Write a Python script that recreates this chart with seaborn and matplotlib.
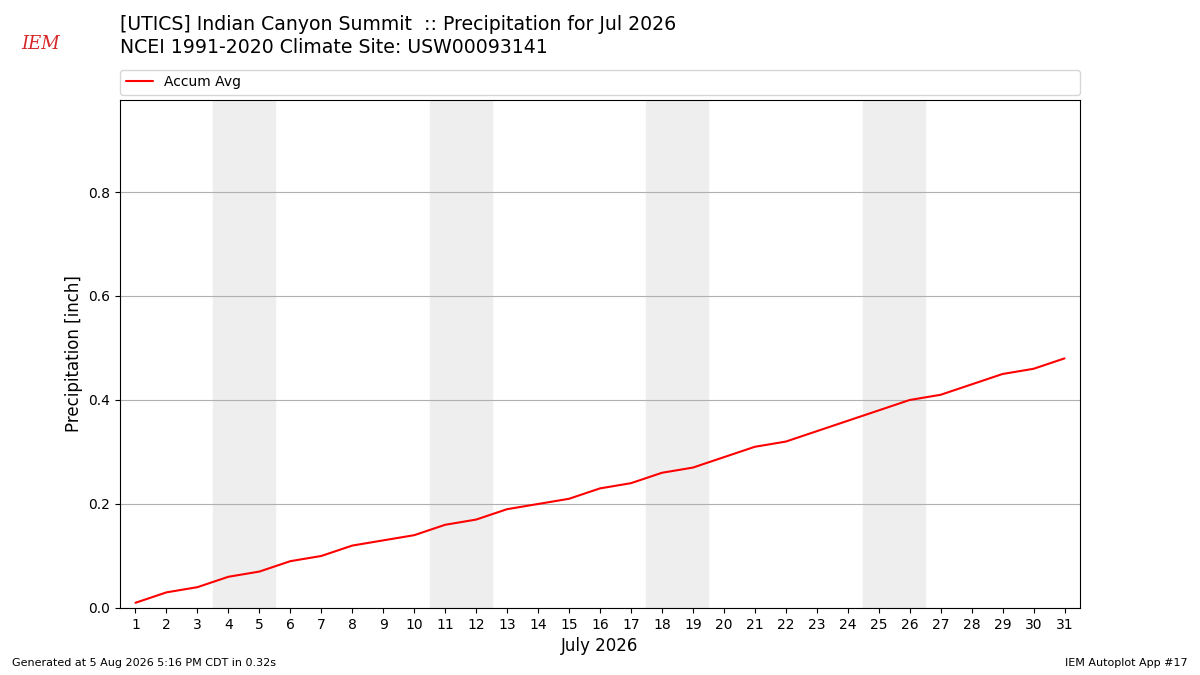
import pandas as pd
import numpy as np
import matplotlib
matplotlib.use("Agg")
import matplotlib.pyplot as plt
import seaborn as sns

# July 2026 accumulated average precipitation (inch)
days = list(range(1, 32))
accum_avg = [0.01, 0.03, 0.04, 0.06, 0.07, 0.09, 0.10, 0.12, 0.13, 0.14,
             0.16, 0.17, 0.19, 0.20, 0.21, 0.23, 0.24, 0.26, 0.27, 0.29,
             0.31, 0.32, 0.34, 0.36, 0.38, 0.40, 0.41, 0.43, 0.45, 0.46,
             0.48]
weekends = [(4, 5), (11, 12), (18, 19), (25, 26)]

df = pd.DataFrame({'day': days, 'precip': accum_avg})

sns.set_style('white')
plt.rcParams['font.family'] = ['DejaVu Sans']
plt.rcParams['text.color'] = 'black'
plt.rcParams['axes.labelcolor'] = 'black'

fig = plt.figure(figsize=(12, 6.75), dpi=100)
ax = fig.add_axes([0.1, 0.0993, 0.8, 0.7526])

for start, end in weekends:
    ax.axvspan(start - 0.5, end + 0.5, color='#eeeeee', zorder=0)

sns.lineplot(data=df, x='day', y='precip', ax=ax, color='red', lw=1.5,
             label='Accum Avg', zorder=3)

ax.set_xlim(0.5, 31.5)
ax.set_ylim(0, 0.977)
ax.set_xticks(days)
ax.set_yticks([0, 0.2, 0.4, 0.6, 0.8])
ax.set_yticklabels(['0.0', '0.2', '0.4', '0.6', '0.8'])
ax.yaxis.grid(True, color='#b0b0b0', lw=0.8)
ax.set_axisbelow(True)
ax.tick_params(axis='both', labelsize=10, length=3.5, width=0.8, direction='out',
               bottom=True, left=True, colors='black')
for s in ax.spines.values():
    s.set_color('black')
    s.set_linewidth(0.8)
ax.set_xlabel('July 2026', fontsize=12)
ax.set_ylabel('Precipitation [inch]', fontsize=12)

leg = ax.legend(loc='lower left', bbox_to_anchor=(0, 1.01, 1, 0.05), mode='expand',
                ncol=1, fontsize=10, frameon=True, borderaxespad=0)
for t in leg.get_texts():
    t.set_color('black')

fig.text(0.1, 0.964, '[UTICS] Indian Canyon Summit  :: Precipitation for Jul 2026',
         fontsize=13.6, va='center')
fig.text(0.1, 0.929, 'NCEI 1991-2020 Climate Site: USW00093141',
         fontsize=13.6, va='center')
fig.text(0.018, 0.935, 'IEM', fontsize=13, color='#d62728', family='serif',
         style='italic', va='center')
fig.text(0.01, 0.013, 'Generated at 5 Aug 2026 5:16 PM CDT in 0.32s', fontsize=8)
fig.text(0.99, 0.013, 'IEM Autoplot App #17', fontsize=8, ha='right')

fig.savefig('out.png', dpi=100)
